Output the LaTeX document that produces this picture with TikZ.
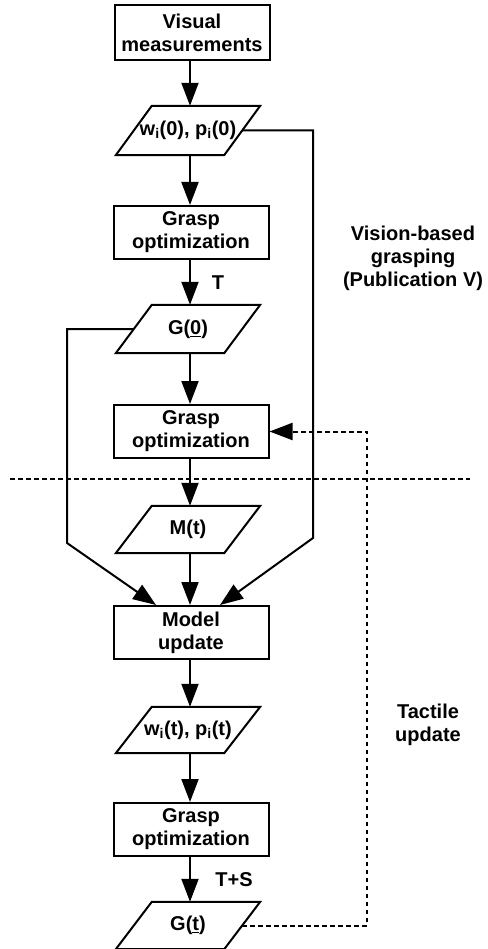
\documentclass[tikz,border=0pt]{standalone}
\usepackage{fontspec}
\setmainfont{Liberation Sans}
\usetikzlibrary{arrows.meta}
\newcommand{\ulmark}[1]{\underline{#1}}
\begin{document}
\begin{tikzpicture}[x=1pt,y=-1pt,
  every node/.style={font=\fontsize{20}{23}\selectfont\bfseries, inner sep=0pt},
  boxnode/.style={draw, line width=2pt, minimum width=155pt, minimum height=53pt, align=center},
  paranode/.style={minimum width=108pt, align=center},
  arr/.style={line width=2pt, -{Triangle[length=23pt,width=17pt]}},
  dashline/.style={line width=2pt, dash pattern=on 4.5pt off 3.5pt},
  paraedge/.style={line width=2pt, line join=miter},
  lbl/.style={align=center}
]
\useasboundingbox (0,0) rectangle (487,949);

% boxes
\node[boxnode, minimum height=55pt] (vis) at (192,32.5) {Visual\\measurements};
\node[boxnode] (go1) at (191,232.5) {Grasp\\optimization};
\node[boxnode] (go2) at (191,431.5) {Grasp\\optimization};
\node[boxnode] (mu) at (191,632.5) {Model\\update};
\node[boxnode] (go3) at (191,829.5) {Grasp\\optimization};

% parallelograms (text holders)
\node[paranode, minimum height=49pt] (p1) at (188,130.5) {w\textsubscript{i}(0), p\textsubscript{i}(0)};
\node[paranode, minimum height=48pt] (g0) at (188,329) {G(\ulmark{0})};
\node[paranode, minimum height=47pt] (mt) at (188,529.5) {M(t)};
\node[paranode, minimum height=46pt] (pt) at (188,730) {w\textsubscript{i}(t), p\textsubscript{i}(t)};
\node[paranode, minimum height=47pt] (gt) at (188,925.5) {G(\ulmark{t})};

\foreach \n in {p1,g0,mt,pt,gt}{
  \draw[paraedge] ([xshift=-18pt]\n.south west) -- ([xshift=-18pt]\n.south east)
    -- ([xshift=18pt]\n.north east) -- ([xshift=18pt]\n.north west) -- cycle;
}

% labels
\node[lbl] (tlab) at (218,283) {T};
\node[lbl] (tslab) at (234,880) {T+S};
\node[lbl] (vlab) at (413,258) {Vision-based\\grasping\\(Publication V)};
\node[lbl] (tactlab) at (428,725) {Tactile\\update};

% vertical flow arrows
\draw[arr] (vis.south -| 190,0) -- (p1.north -| 190,0);
\draw[arr] (p1.south -| 190,0) -- (go1.north -| 190,0);
\draw[arr] (go1.south -| 190,0) -- (g0.north -| 190,0);
\draw[arr] (g0.south -| 190,0) -- (go2.north -| 190,0);
\draw[arr] (go2.south -| 190,0) -- (mt.north -| 190,0);
\draw[arr] (mt.south -| 190,0) -- (mu.north -| 190,0);
\draw[arr] (mu.south -| 190,0) -- (pt.north -| 190,0);
\draw[arr] (pt.south -| 190,0) -- (go3.north -| 190,0);
\draw[arr] (go3.south -| 190,0) -- (gt.north -| 190,0);

% side connectors into model update
\coordinate (rtop) at (313,130.5);
\coordinate (rbend) at (313,538);
\coordinate (ltop) at (67,329);
\coordinate (lbend) at (67,543);
\draw[arr, line join=miter] (p1.east) -- (rtop) -- (rbend) -- ([xshift=29pt]mu.north);
\draw[arr, line join=miter] (g0.west) -- (ltop) -- (lbend) -- ([xshift=-35pt]mu.north);

% feedback (dashed)
\coordinate (fbx) at (367,0);
\draw[dashline, -{Triangle[length=23pt,width=17pt]}] (gt.east) -- (gt.east -| fbx) -- (go2.east -| fbx) -- (go2.east);

% separator
\coordinate (sepl) at (10,479);
\coordinate (sepr) at (470,479);
\draw[dashline] (sepl) -- (sepr);
\end{tikzpicture}
\end{document}
